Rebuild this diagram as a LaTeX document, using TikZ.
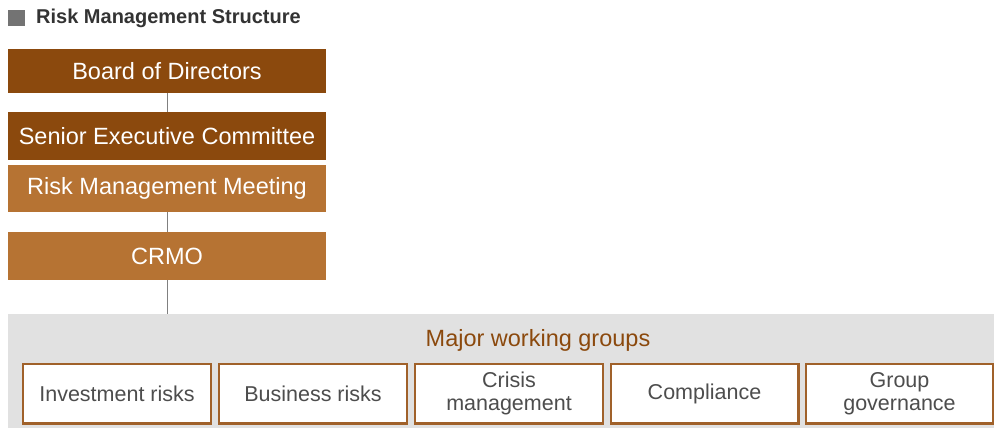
\documentclass[tikz,border=0pt]{standalone}
\usepackage{fontspec}
\setmainfont{Liberation Sans}
\usepackage{tikz}
\usetikzlibrary{positioning}
\definecolor{darkbrown}{HTML}{8B490D}
\definecolor{lightbrown}{HTML}{B67333}
\definecolor{boxline}{HTML}{A0612A}
\definecolor{bandgray}{HTML}{E1E1E1}
\definecolor{titlegray}{HTML}{333333}
\definecolor{textgray}{HTML}{4D4D4D}
\definecolor{linkgray}{HTML}{808080}

\begin{document}
\begin{tikzpicture}[x=1pt,y=-1pt]
		\tikzset{bodybox/.style={fill=#1, text=white, minimum width=318pt, inner sep=0pt, font=\fontsize{23.5}{26}\selectfont},
			groupbox/.style={draw=boxline, line width=2.2pt, fill=white, text=textgray, minimum width=187.8pt, minimum height=59.8pt, inner sep=0pt, align=center, font=\fontsize{21.5}{23}\selectfont},
			link/.style={draw=linkgray, line width=1pt}};
		\useasboundingbox (0,0) rectangle (994,428);
		% heading
		\fill[linkgray!90!black] (8,10) rectangle (25,26);
		\node[anchor=west, text=titlegray, inner sep=0pt, font=\fontsize{20}{22}\bfseries] (title) at (36,18) {Risk Management Structure};
		
		% chain of bodies
		\node[bodybox=darkbrown, minimum height=44pt] (board) at (167,71) {Board of Directors};
		\node[bodybox=darkbrown, minimum height=48pt] (senior) at (167,136) {Senior Executive Committee};
		\node[bodybox=lightbrown, minimum height=47pt] (meeting) at (167,188.5) {Risk Management Meeting};
		\node[bodybox=lightbrown, minimum height=48pt] (crmo) at (167,256) {CRMO};
		
		% working groups
		\node[fill=bandgray, minimum width=986pt, minimum height=114pt, inner sep=0pt] (band) at (501,371) {};
		\node[text=darkbrown, inner sep=0pt, font=\fontsize{23.5}{26}\selectfont] (major) at (538,340) {Major working groups};
		\node[groupbox] (invest) at (117,393.5) {Investment risks};
		\node[groupbox] (business) at (313,393.5) {Business risks};
		\node[groupbox] (crisis) at (509,393.5) {Crisis\\management};
		\node[groupbox] (compliance) at (704.5,393.5) {Compliance};
		\node[groupbox] (governance) at (899.5,393.5) {Group\\governance};
		
		\draw[link] (board.south) -- (senior.north);
		\draw[link] (meeting.south) -- (crmo.north);
		\draw[link] (crmo.south) -- (crmo.south |- band.north);
	\end{tikzpicture}
\end{document}
